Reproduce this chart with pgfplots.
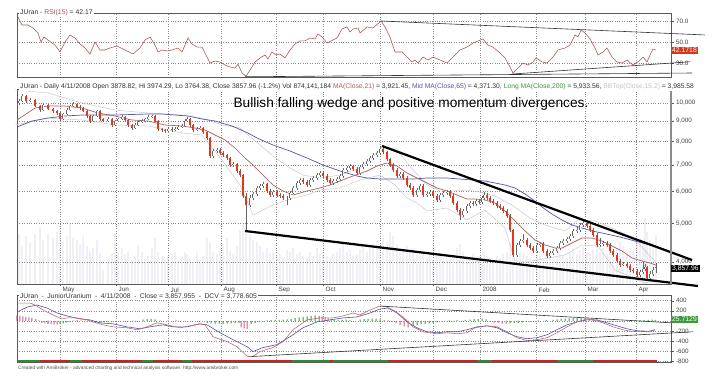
\documentclass[border=0pt]{standalone}
\usepackage{pgfplots}
\pgfplotsset{compat=1.18}
\usepackage{pgfplotstable}
\usepackage{fontspec}
\setmainfont{Liberation Sans}

\definecolor{rsiline}{HTML}{A85050}
\definecolor{ma21}{HTML}{B06060}
\definecolor{ma65}{HTML}{5555AA}
\definecolor{candlered}{HTML}{E03A1E}
\definecolor{vol}{HTML}{E6E6F0}
\definecolor{bbgray}{HTML}{C4C4C4}
\definecolor{histgreen}{HTML}{3A9A3A}
\definecolor{histpink}{HTML}{C86088}
\definecolor{stripgreen}{HTML}{2E8B2E}
\definecolor{stripred}{HTML}{D02020}
\definecolor{boxred}{HTML}{D03A20}
\definecolor{boxgreen}{HTML}{3C9A3C}
\definecolor{dcvbrown}{HTML}{B07070}
\definecolor{dcvblue}{HTML}{5050A0}

\pgfplotstableread{
x o h l c v
19 9990 10240 9900 10106 50
22 10106 10520 10050 10401 38
26 10401 10450 10000 10106 48
30 10106 10300 10020 10164 42
35 10164 10250 9740 9819 50
40 9819 9900 9500 9595 56
43 9595 9950 9540 9876 44
48 9876 9960 9580 9650 50
53 9650 9730 9450 9540 46
57 9540 9620 9350 9431 52
60 9431 9500 9020 9111 58
63 9111 9450 9050 9377 42
67 9377 9680 9320 9595 48
70 9595 9900 9540 9819 60
73 9819 10020 9760 9933 46
77 9933 10000 9680 9762 44
80 9762 9850 9620 9706 40
83 9706 9780 9460 9540 48
87 9540 9600 9180 9270 38
90 9270 9330 8920 9007 34
93 9007 9350 8950 9270 36
97 9270 9620 9210 9540 44
100 9540 9600 9030 9111 30
103 9111 9180 8930 9007 14
108 9007 9200 8940 9111 26
112 9111 9170 8720 8802 30
115 8802 9080 8740 9007 50
118 9007 9190 8950 9111 32
122 9111 9300 9050 9216 36
125 9216 9280 8980 9059 30
128 9059 9120 8720 8802 32
132 8802 8870 8570 8651 24
135 8651 8880 8590 8802 28
138 8802 9030 8740 8955 38
142 8955 9090 8890 9007 32
145 9007 9190 8940 9111 26
148 9111 9300 9050 9216 28
152 9216 9350 9150 9270 36
155 9270 9330 8930 9007 46
158 9007 9060 8520 8602 32
162 8602 8670 8470 8553 28
165 8553 8620 8420 8504 24
168 8504 8680 8440 8602 28
172 8602 8680 8470 8553 30
175 8553 8680 8480 8602 32
178 8602 8780 8540 8701 24
182 8701 8830 8640 8751 28
185 8751 9090 8700 9007 32
187 9007 9200 8950 9111 30
190 9111 9170 8720 8802 26
193 8802 8860 8470 8553 22
197 8553 8680 8480 8602 32
200 8602 8730 8540 8651 24
203 8651 8720 8370 8454 28
207 8454 8520 8080 8167 46
210 8167 8230 7280 7363 42
213 7363 7660 7300 7579 32
217 7579 7710 7500 7623 30
220 7623 7690 7410 7491 32
223 7491 7560 7330 7405 40
227 7405 7470 7200 7279 46
230 7279 7340 6920 6992 34
233 6992 7110 6930 7032 30
237 7032 7090 6680 6755 38
240 6755 6820 6530 6600 54
243 6600 6650 5780 5849 60
246 5849 5950 4810 5554 62
250 5554 5880 5500 5782 50
253 5782 6000 5720 5917 44
257 5917 6200 5860 6125 42
260 6125 6270 6060 6196 38
263 6196 6350 6130 6268 32
267 6268 6320 5950 6020 36
270 6020 6080 5810 5883 30
273 5883 6060 5820 5985 32
277 5985 6040 5810 5883 28
280 5883 5940 5780 5849 30
283 5849 5900 5710 5782 26
287 5782 5850 5554 5782 34
290 5782 6020 5720 5951 32
293 5951 6200 5900 6125 36
297 6125 6380 6070 6304 30
300 6304 6490 6240 6414 32
303 6414 6480 6270 6340 28
307 6340 6400 6160 6232 26
310 6232 6490 6170 6414 32
313 6414 6570 6350 6488 28
317 6488 6680 6430 6600 36
320 6600 6760 6540 6677 30
323 6677 6740 6490 6563 32
327 6563 6630 6340 6414 28
330 6414 6470 6230 6304 26
333 6304 6450 6240 6377 30
337 6377 6530 6310 6450 32
340 6450 6640 6390 6563 36
343 6563 6870 6500 6794 40
347 6794 6960 6720 6872 32
350 6872 7040 6800 6952 34
353 6952 7010 6760 6833 28
357 6833 6900 6600 6677 30
360 6677 6990 6610 6911 34
363 6911 7110 6850 7032 38
367 7032 7240 6970 7154 32
370 7154 7360 7090 7279 36
373 7279 7490 7210 7405 40
377 7405 7580 7340 7491 44
380 7491 7800 7420 7666 38
383 7666 7740 7450 7534 46
387 7534 7600 7160 7237 42
390 7237 7300 6920 6992 52
393 6992 7060 6720 6794 48
397 6794 6860 6490 6563 40
400 6563 6720 6500 6639 32
403 6639 6700 6410 6488 34
407 6488 6550 6160 6232 38
410 6232 6300 6050 6125 32
413 6125 6190 5810 5883 36
417 5883 6130 5820 6055 30
420 6055 6270 6000 6196 28
423 6196 6250 5810 5883 34
427 5883 5990 5820 5917 26
430 5917 6060 5860 5985 30
433 5985 6040 5780 5849 24
437 5849 5900 5650 5716 28
440 5716 5950 5660 5883 32
443 5883 6020 5820 5951 26
447 5951 6060 5890 5985 24
450 5985 6040 5780 5849 28
453 5849 5900 5550 5618 30
457 5618 5680 5330 5396 36
460 5396 5450 5094 5243 40
463 5243 5430 5190 5365 32
467 5365 5590 5310 5522 28
470 5522 5690 5460 5618 26
473 5618 5670 5520 5586 30
476 5586 5750 5530 5683 24
479 5683 5730 5590 5650 28
482 5650 5850 5600 5782 26
484 5782 5990 5720 5883 32
487 5883 5940 5720 5782 28
490 5782 5840 5620 5683 26
493 5683 5740 5550 5618 24
497 5618 5680 5460 5522 28
500 5522 5580 5400 5459 26
503 5459 5520 5300 5365 30
507 5365 5420 5150 5213 32
510 5213 5270 4750 4810 42
513 4810 4850 4110 4165 46
517 4165 4470 4120 4412 38
520 4412 4570 4360 4514 32
523 4514 4700 4470 4540 30
527 4540 4590 4360 4412 28
530 4412 4460 4280 4336 26
533 4336 4390 4210 4262 24
537 4262 4470 4220 4412 30
540 4412 4490 4370 4437 28
543 4437 4480 4210 4262 26
547 4262 4310 4090 4141 32
550 4141 4270 4100 4213 28
553 4213 4310 4170 4262 24
557 4262 4390 4220 4336 26
560 4336 4510 4290 4463 30
563 4463 4570 4410 4514 28
567 4514 4620 4460 4566 26
570 4566 4700 4510 4646 32
573 4646 4840 4600 4782 36
577 4782 4880 4730 4810 30
580 4810 5010 4760 4950 34
583 4950 5070 4900 5007 38
587 5007 5050 4860 4921 32
590 4921 4970 4750 4810 30
593 4810 4860 4620 4673 34
597 4673 4720 4360 4412 40
600 4412 4590 4370 4437 32
603 4437 4520 4390 4463 36
607 4463 4520 4360 4412 30
610 4412 4460 4210 4262 38
613 4262 4310 4120 4165 32
617 4165 4210 3980 4023 36
620 4023 4070 3890 3931 42
623 3931 4000 3900 3954 38
627 3954 4000 3860 3909 32
630 3909 3960 3780 3820 36
633 3820 3870 3750 3798 34
637 3798 3850 3670 3712 40
640 3712 3830 3680 3776 46
643 3776 3990 3740 3842 42
645 3842 3950 3800 3886 66
647 3886 3910 3600 3648 52
650 3648 3790 3610 3733 44
653 3733 3880 3700 3820 42
656 3878.82 3974.29 3764.38 3857.96 48
}\candles

\pgfplotsset{
  panel/.style={
    scale only axis, width=654pt, xmin=17, xmax=671, clip=false,
    axis line style={black!65, line width=0.5pt},
    tick style={black!65, line width=0.4pt},
    major tick length=2.5pt, tick align=outside,
    ytick pos=right, yticklabel pos=right, xtick pos=left,
    grid=major, major grid style={dotted, black!45, line width=0.45pt},
    xtick={60,116,168,221,276,323,380,433,480,536,585,636},
    ticklabel style={font=\fontsize{6.3}{7}\selectfont, text=black!75},
    yticklabel style={xshift=-1pt},
  },
  candle/.style={draw=none, mark=none, forget plot,
    error bars/y dir=minus, error bars/y explicit, error bars/error mark=none,
    error bars/error bar style={draw=#1, line cap=butt}},
}
\newcommand{\hdr}{\fontsize{6.8}{8}\selectfont}
\newcommand{\sep}{\hspace{3.5pt}-\hspace{3.5pt}}

\begin{document}
\begin{tikzpicture}
\useasboundingbox (0pt,0pt) rectangle (717pt,376pt);

% ---------------- RSI panel ----------------
\begin{axis}[panel, at={(17pt,299pt)}, anchor=south west, height=64pt,
  ymin=16.7, ymax=77.6, ytick={30,50,70}, yticklabels={30.0,50.0,70.0},
  xticklabels={}, xtick style={draw=none}]
\addplot[rsiline, line width=0.55pt] coordinates {
(18,73.8) (22,66.2) (28,66.2) (33,63.3) (38,58.6) (41,50.0) (44,54.8) (48,51.9)
(55,47.1) (60,40.5) (65,50.0) (70,56.7) (75,53.8) (80,48.1) (85,44.3) (90,38.6)
(95,50.0) (100,42.4) (105,42.4) (110,44.3) (117,46.2) (125,42.4) (133,38.6)
(140,44.3) (145,51.9) (150,54.8) (155,47.1) (158,40.5) (162,42.4) (167,41.4)
(172,42.4) (178,44.3) (182,40.5) (188,53.8) (192,48.1) (197,45.2) (202,45.2)
(206,37.6) (210,30.0) (215,31.9) (220,31.0) (225,28.1) (230,26.2) (235,25.2)
(238,29.0) (242,20.5) (246,17.5) (250,23.3) (255,31.0) (260,34.8) (265,37.6)
(268,33.8) (272,40.5) (276,37.6) (280,38.6) (285,34.8) (290,42.4) (295,48.1)
(300,51.0) (305,51.0) (310,53.8) (315,52.9) (318,57.6) (322,54.8) (327,49.0)
(333,51.9) (337,53.8) (342,62.4) (347,64.3) (350,59.5) (353,62.4) (358,63.3)
(360,58.6) (367,64.3) (373,63.3) (381,70.0) (385,64.3) (390,54.8) (395,40.5)
(402,40.5) (407,35.7) (412,31.0) (415,32.9) (418,30.0) (423,35.7) (428,32.9)
(433,35.7) (440,32.9) (447,30.0) (453,35.7) (460,42.4) (467,45.2) (473,49.0)
(483,52.9) (488,47.1) (493,45.2) (500,39.5) (505,34.8) (509,28.1) (513,20.5)
(518,25.2) (523,30.0) (528,28.1) (533,31.0) (536,34.8) (542,31.0) (547,30.0)
(553,35.7) (558,42.4) (565,44.3) (570,47.1) (575,56.7) (578,54.8) (581,61.4)
(585,58.6) (590,52.9) (595,44.3) (598,37.6) (603,40.5) (607,44.3) (612,35.7)
(617,31.0) (622,30.0) (627,32.9) (633,28.1) (638,31.0) (643,35.7) (647,31.0)
(650,37.6) (653,43.3) (656,42.2)};
\addplot[black!80, line width=0.6pt] coordinates {(381,70.0) (705,56.7)};
\addplot[black!80, line width=0.6pt] coordinates {(245,16.9) (692,20.5)};
\addplot[black!80, line width=0.6pt] coordinates {(512,19.5) (690,31.2)};
\node[anchor=west, fill=boxred, text=white, inner sep=1pt, font=\hdr]
  at (axis cs:671,42.17) {42.1718};
\end{axis}
\node[anchor=west, fill=white, inner sep=1pt, font=\hdr, text=black!80]
  at (19pt,363pt) {JUran - \textcolor{rsiline}{RSI(15)} = 42.17};

% ---------------- Volume (behind price) ----------------
\begin{axis}[at={(17pt,92pt)}, anchor=south west, scale only axis, width=654pt,
  height=195pt, xmin=17, xmax=671, ymin=0, ymax=195, hide axis]
\addplot[ybar, bar width=1.1pt, fill=vol, draw=none] table[x=x, y=v] {\candles};
\end{axis}

% ---------------- Price panel ----------------
\begin{axis}[panel, at={(17pt,92pt)}, anchor=south west, height=195pt,
  ymode=log, ymin=3525, ymax=10830,
  ytick={4000,5000,6000,7000,8000,9000,10000},
  yticklabels={{4,000},{5,000},{6,000},{7,000},{8,000},{9,000},{10,000}},
  minor ytick={},
  xticklabels={May,Jun,Jul,Aug,Sep,Oct,Nov,Dec,2008,Feb,Mar,Apr},
  xticklabel style={anchor=north west, xshift=-0.8pt, yshift=2.5pt}]
% Bollinger bands
\addplot[bbgray, line width=0.45pt] coordinates {
(15,10766) (48,10582) (82,9990) (115,9595) (148,9431) (182,9323) (202,9164)
(222,8802) (240,8651) (260,7845) (273,7363) (290,6872) (303,6600) (320,6488)
(340,6600) (360,6872) (370,7196) (383,7800) (397,7623) (413,6794) (427,6232)
(440,6020) (453,6020) (467,6055) (480,5985) (495,5849) (512,5554) (530,5153)
(545,4950) (565,4782) (578,5094) (595,5065) (612,4865) (625,4700) (640,4412)
(656,3986)};
\addplot[bbgray, line width=0.45pt] coordinates {
(15,8802) (48,9164) (82,9059) (115,8802) (148,8751) (182,8406) (202,8310)
(222,7196) (240,6232) (253,5243) (273,5554) (293,5782) (307,5883) (320,6055)
(340,6125) (360,6414) (380,6600) (395,6232) (407,5782) (417,5618) (427,5365)
(447,5459) (467,5094) (485,5396) (505,4865) (515,4023) (532,4023) (565,4165)
(582,4412) (598,4386) (615,3820) (645,3543) (656,3607)};
% moving averages
\addplot[ma65, line width=0.7pt] coordinates {
(17,8701) (32,9007) (48,9164) (65,9270) (82,9323) (115,9323) (148,9377)
(162,9377) (175,9323) (188,9270) (202,9111) (215,9007) (232,8751) (248,8406)
(257,8167) (273,7845) (290,7579) (307,7279) (323,6992) (340,6755) (357,6563)
(367,6488) (380,6450) (397,6450) (413,6450) (427,6488) (447,6488) (460,6450)
(473,6414) (485,6377) (495,6304) (505,6232) (515,6125) (525,5917) (532,5749)
(542,5490) (552,5273) (562,5094) (572,4950) (582,4865) (592,4782) (602,4727)
(620,4619) (635,4514) (656,4371)};
\addplot[ma21, line width=0.7pt] coordinates {
(17,9059) (35,9706) (48,9819) (65,9819) (82,9706) (98,9431) (115,9270)
(132,9059) (148,9007) (165,8802) (182,8751) (195,8651) (205,8553) (215,8310)
(225,8074) (235,7711) (245,7279) (253,6992) (263,6600) (273,6232) (283,6020)
(293,5883) (307,6020) (320,6125) (330,6232) (340,6377) (353,6563) (367,6755)
(377,6952) (387,7073) (397,6952) (407,6677) (417,6488) (427,6304) (437,6125)
(447,6020) (457,5883) (467,5749) (475,5749) (485,5716) (495,5618) (505,5365)
(515,5065) (525,4782) (535,4540) (545,4412) (555,4336) (562,4336) (572,4463)
(582,4593) (592,4593) (602,4514) (612,4386) (622,4262) (632,4094) (642,4023)
(650,3977) (657,3921)};
% candle wicks
\addplot[candle={black!60}, error bars/error bar style={line width=0.35pt}]
  table[x=x, y=h, y error minus expr=\thisrow{h}-\thisrow{l}] {\candles};
% down candles
\addplot[candle={candlered}, error bars/error bar style={line width=2pt},
  restrict expr to domain={\thisrow{o}-\thisrow{c}}{0.001:100000}]
  table[x=x, y=o, y error minus expr=\thisrow{o}-\thisrow{c}] {\candles};
% up candles
\addplot[candle={black!60}, error bars/error bar style={line width=2pt},
  restrict expr to domain={\thisrow{c}-\thisrow{o}}{0:100000}]
  table[x=x, y=c, y error minus expr=\thisrow{c}-\thisrow{o}] {\candles};
\addplot[candle={white}, error bars/error bar style={line width=1.0pt},
  restrict expr to domain={\thisrow{c}-\thisrow{o}}{0:100000}]
  table[x=x, y=c, y error minus expr=\thisrow{c}-\thisrow{o}] {\candles};
% wedge lines
\addplot[black, line width=2.2pt] coordinates {(382,7800) (692,4047)};
\addplot[black, line width=2.2pt] coordinates {(245,4782) (698,3484)};
\draw[black!45, line width=1.4pt] (rel axis cs:1,0) -- (rel axis cs:1,1);
\node[anchor=west, fill=black, text=white, inner sep=1pt, font=\hdr]
  at (axis cs:671,3857.96) {3,857.96};
\end{axis}
\node[anchor=west, font=\fontsize{13.7}{16}\selectfont] at (230pt,272pt)
  {Bullish falling wedge and positive momentum divergences.};
\node[anchor=west, fill=white, inner sep=1pt, font=\fontsize{6.75}{8}\selectfont, text=black!80]
  at (19pt,289.5pt) {JUran - Daily 4/11/2008 Open 3878.82, Hi 3974.29, Lo 3764.38, Close 3857.96 (-1.2\%) Vol 874,141,184 \textcolor{ma21}{MA(Close,21)} = 3,921.45, \textcolor{ma65}{Mid MA(Close,65)} = 4,371.30, \textcolor{histgreen}{Long MA(Close,200)} = 5,933.56, \textcolor{bbgray}{BBTop(Close,15,2)} = 3,985.58};

% ---------------- DCV panel ----------------
\begin{axis}[panel, at={(17pt,14pt)}, anchor=south west, height=67pt,
  ymin=-815, ymax=513, ytick={-800,-600,-400,-200,0,200,400},
  yticklabels={-800,-600,-400,-200,,200,400},
  xticklabels={}, xtick style={draw=none}]
\addplot[ybar, bar width=1pt, fill=histgreen, draw=none] coordinates {
(60,-60) (63,-50) (66,-35) (69,-20) (92,-25) (96,-30) (100,-35) (104,-30) (108,-25)
(143,25) (147,35) (151,40) (155,30) (207,-45) (211,-50) (215,-55) (219,-55)
(223,-60) (227,-55) (231,-50) (235,-45) (239,-40) (251,-60) (255,-40) (259,-25)
(263,-10) (267,10) (271,15) (275,20) (279,20) (283,25) (287,30) (291,40) (295,55)
(299,70) (303,80) (307,90) (311,100) (315,110) (319,100) (334,15) (338,20)
(342,20) (346,25) (350,20) (360,25) (364,35) (368,40) (372,45) (376,40) (380,30)
(413,-90) (417,-80) (421,-70) (425,-60) (429,-50) (433,-40) (437,-30) (441,-10)
(449,10) (457,15) (465,20) (470,25) (474,35) (478,40) (482,45) (486,30)
(510,-50) (514,-45) (518,-40) (522,-35) (526,-25) (530,-20) (538,10) (546,15)
(553,20) (557,30) (561,40) (565,45) (569,50) (573,55) (577,60) (581,60)
(620,-15) (624,-10) (628,-5) (632,5) (636,10) (640,10) (644,15) (648,20)
(652,25) (655,20)};
\addplot[ybar, bar width=1pt, fill=histpink, draw=none] coordinates {
(17,110) (20,100) (23,90) (26,80) (29,70) (32,60) (36,40) (39,10)
(42,-40) (45,-50) (48,-60) (51,-65) (54,-70) (57,-70) (73,10) (77,15) (81,10)
(85,5) (112,-10) (116,-10) (120,-10) (124,-10) (128,-8) (132,-8) (136,-10)
(160,10) (168,8) (176,10) (184,-8) (192,-10) (200,-8) (241,-130) (244,-150)
(247,-160) (322,90) (325,80) (328,60) (331,40) (384,20) (388,10) (392,-20)
(396,-50) (400,-80) (404,-110) (408,-130) (445,-10) (453,-15) (461,-10)
(490,-20) (494,-35) (498,-45) (502,-55) (506,-60) (585,55) (589,45) (593,40)
(597,30) (601,-10) (605,-20) (609,-25) (613,-25) (617,-20)};
\addplot[dcvblue, line width=0.6pt] coordinates {
(17,176) (27,274) (37,314) (47,255) (57,157) (67,98) (80,39) (90,20) (100,-39)
(113,-59) (127,-118) (140,-157) (150,-118) (163,-78) (173,-118) (187,-118)
(200,-59) (207,-78) (220,-235) (233,-372) (247,-510) (253,-608) (263,-529)
(277,-470) (290,-314) (303,-137) (317,-20) (330,20) (343,59) (357,78) (370,157)
(380,235) (388,255) (397,157) (407,-20) (417,-137) (427,-216) (437,-235)
(447,-216) (457,-216) (467,-176) (477,-118) (487,-98) (497,-137) (507,-235)
(517,-314) (527,-353) (537,-333) (547,-274) (557,-176) (567,-78) (577,-20)
(587,20) (597,20) (607,-39) (617,-98) (627,-157) (637,-196) (647,-216) (655,-176)};
\addplot[dcvbrown, line width=0.6pt] coordinates {
(17,353) (22,353) (30,353) (35,314) (43,216) (53,118) (62,39) (67,59) (77,59)
(87,20) (93,-20) (103,-78) (113,-118) (127,-137) (137,-176) (147,-118) (157,-39)
(167,-78) (180,-137) (190,-98) (200,-59) (205,-78) (213,-314) (227,-412)
(237,-510) (245,-666) (248,-706) (253,-706) (260,-608) (273,-529) (283,-412)
(293,-176) (307,20) (320,59) (333,59) (343,98) (353,157) (360,118) (370,216)
(380,294) (385,294) (393,216) (403,78) (413,-118) (423,-216) (437,-255)
(447,-235) (457,-255) (467,-235) (475,-137) (487,-98) (497,-118) (507,-216)
(517,-333) (527,-392) (537,-372) (547,-333) (557,-235) (567,-118) (577,-20)
(587,39) (593,20) (603,-39) (613,-118) (623,-176) (633,-216) (643,-196)
(650,-216) (655,-176)};
\addplot[black!80, line width=0.6pt] coordinates {(380,294) (672,-39)};
\addplot[black!80, line width=0.6pt] coordinates {(252,-706) (693,-216)};
\addplot[stripgreen, line width=2pt, unbounded coords=jump] coordinates {
(17,-800) (40,-800) (55,nan) (70,-800) (82,-800) (100,nan) (142,-800) (153,-800)
(160,nan) (182,-800) (192,-800) (200,nan) (292,-800) (330,-800) (331,nan)
(333,-800) (388,-800) (400,nan) (477,-800) (492,-800) (500,nan) (557,-800)
(593,-800)};
\addplot[stripred, line width=2pt, unbounded coords=jump] coordinates {
(40,-800) (70,-800) (75,nan) (82,-800) (142,-800) (145,nan) (153,-800) (182,-800)
(185,nan) (192,-800) (292,-800) (300,nan) (330,-800) (333,-800) (340,nan)
(388,-800) (477,-800) (480,nan) (492,-800) (557,-800) (560,nan) (593,-800)
(657,-800)};
\node[anchor=west, fill=boxgreen, text=white, inner sep=1pt, font=\hdr]
  at (axis cs:671,25.71) {25.7129};
\end{axis}
\node[anchor=west, fill=white, inner sep=0.8pt, font=\hdr, text=black!80]
  at (19pt,79.5pt) {JUran\sep JuniorUranium\sep 4/11/2008\sep Close = 3,857.955\sep DCV = 3,778.605};
\node[anchor=west, inner sep=0pt, font=\fontsize{4.8}{6}\selectfont, text=black!70]
  at (18pt,8pt) {Created with AmiBroker - advanced charting and technical analysis software. http://www.amibroker.com};
\end{tikzpicture}
\end{document}
